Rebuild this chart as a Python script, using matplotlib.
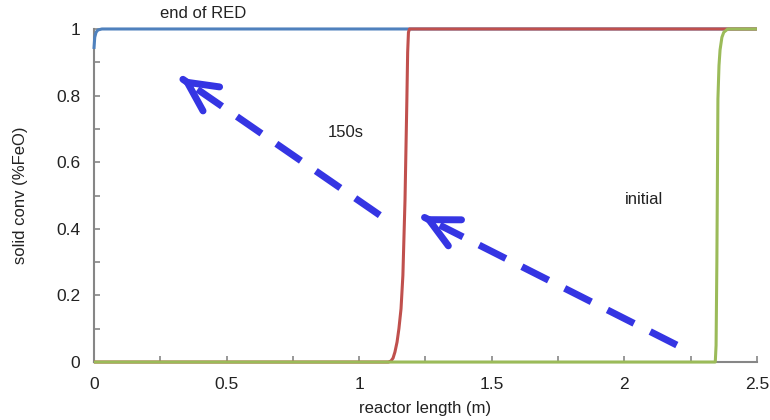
import matplotlib
matplotlib.use('Agg')
import matplotlib.pyplot as plt

plt.rcParams['font.family'] = ['Liberation Sans', 'DejaVu Sans']

# curve data (reactor length in m, solid conversion)
x_end = [0.0, 0.003, 0.008, 0.015, 0.03, 0.06, 0.2, 1.0, 2.5]
y_end = [0.94, 0.975, 0.99, 0.997, 1.0, 1.0, 1.0, 1.0, 1.0]

x_150 = [0.0, 0.5, 1.0, 1.110, 1.120, 1.128, 1.135, 1.143, 1.150, 1.158, 1.165,
         1.173, 1.180, 1.183, 1.186, 1.19, 1.5, 2.0, 2.5]
y_150 = [0.0, 0.0, 0.0, 0.0, 0.003, 0.012, 0.03, 0.06, 0.1, 0.16, 0.26,
         0.486, 0.787, 0.93, 0.99, 1.0, 1.0, 1.0, 1.0]

x_init = [0.0, 1.0, 2.0, 2.343, 2.346, 2.349, 2.353, 2.357, 2.361, 2.368, 2.375, 2.39, 2.45, 2.5]
y_init = [0.0, 0.0, 0.0, 0.0, 0.05, 0.3, 0.79, 0.89, 0.937, 0.975, 0.99, 1.0, 1.0, 1.0]

line_colors = ['#4f81bd', '#c0504d', '#9bbb59']
arrow_color = '#3535e3'

# label text and positions (data coords)
labels = ['end of RED', '150s', 'initial']
label_pos = [(0.41, 1.045), (0.95, 0.688), (2.074, 0.489)]

# arrows: (tail, tip)
arrows = [((2.198, 0.051), (1.237, 0.438)),
          ((1.078, 0.441), (0.328, 0.853))]

fig = plt.figure(figsize=(7.7, 4.2), dpi=100)
ax = fig.add_axes([0.122, 0.138, 0.861, 0.793])

for xs, ys, c in zip([x_end, x_150, x_init], [y_end, y_150, y_init], line_colors):
    ax.plot(xs, ys, color=c, lw=2.2, clip_on=False, solid_capstyle='butt',
            solid_joinstyle='round', zorder=3)

for (tail, tip) in arrows:
    dx = tip[0] - tail[0]
    dy = tip[1] - tail[1]
    stop = (tail[0] + 0.93 * dx, tail[1] + 0.93 * dy)
    ax.plot([tail[0], stop[0]], [tail[1], stop[1]], color=arrow_color, lw=5,
            linestyle=(0, (4.3, 2.6)), dash_capstyle='butt', zorder=4)
    ax.annotate('', xy=tip, xytext=(tip[0] - 0.01 * dx, tip[1] - 0.01 * dy),
                arrowprops=dict(arrowstyle='->,head_length=2.1,head_width=1.05',
                                color=arrow_color, lw=5, shrinkA=0, shrinkB=0,
                                capstyle='round', joinstyle='miter'),
                zorder=4)

for t, (px, py) in zip(labels, label_pos):
    ax.text(px, py, t, fontsize=12, ha='center', va='center', color='#222222')

ax.set_xlim(0, 2.5)
ax.set_ylim(0, 1)
ax.set_xticks([0, 0.5, 1, 1.5, 2, 2.5])
ax.set_xticklabels(['0', '0.5', '1', '1.5', '2', '2.5'])
ax.set_xticks([0.25, 0.75, 1.25, 1.75, 2.25], minor=True)
ax.set_yticks([0, 0.2, 0.4, 0.6, 0.8, 1])
ax.set_yticklabels(['0', '0.2', '0.4', '0.6', '0.8', '1'])
ax.set_yticks([0.1, 0.3, 0.5, 0.7, 0.9], minor=True)

ax.tick_params(which='both', direction='in', color='#868686', labelsize=12.5,
               labelcolor='#222222', length=4, width=1.2)
ax.tick_params(axis='x', pad=11)
ax.tick_params(axis='y', pad=10)
for s in ['top', 'right']:
    ax.spines[s].set_visible(False)
for s in ['left', 'bottom']:
    ax.spines[s].set_color('#868686')
    ax.spines[s].set_linewidth(1.5)

ax.set_xlabel('reactor length (m)', fontsize=12, color='#222222', labelpad=6)
ax.set_ylabel('solid conv (%FeO)', fontsize=12, color='#222222', labelpad=20)

fig.savefig('out.png', dpi=100)
